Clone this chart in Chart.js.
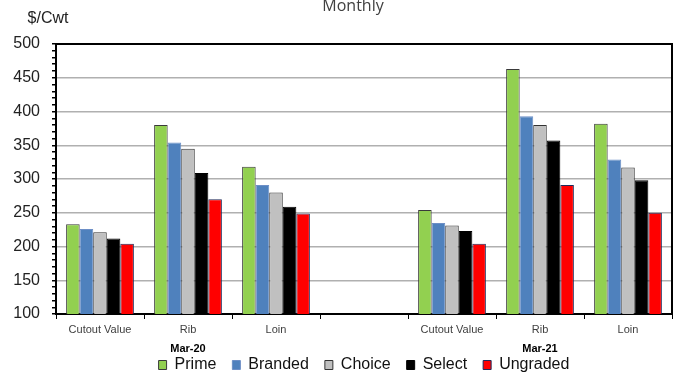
<!DOCTYPE html>
<html>
<head>
<meta charset="utf-8">
<script src="https://cdn.jsdelivr.net/npm/chart.js@4.4.1/dist/chart.umd.min.js"></script>
<style>
  html, body { margin: 0; padding: 0; background: #fff; }
  #wrap { width: 677px; height: 376px; position: relative; }
</style>
</head>
<body>
<div id="wrap"><canvas id="chart"></canvas></div>
<script>
// categories and values
const categories = ['Cutout Value', 'Rib', 'Loin', '', 'Cutout Value', 'Rib', 'Loin'];
const periods = ['Mar-20', 'Mar-21'];
const periodCenters = [1, 5]; // category index each period label sits under

const prime    = [233, 380, 318, null, 254, 463, 382];
const branded  = [226, 354, 291, null, 235, 393, 329];
const choice   = [221, 345, 280, null, 231, 380, 317];
const select   = [212, 309, 259, null, 223, 357, 298];
const ungraded = [204, 270, 249, null, 204, 291, 250];

const yMin = 100, yMax = 500, yMajor = 50, yMinor = 10;

const FONT = '"Liberation Sans", Arial, sans-serif';

// box round the plot, title, unit label and the period labels under the axis
const FramePlugin = {
	id: 'frame',
	afterDraw: (chart) => {
		const { ctx, chartArea, scales } = chart;
		ctx.save();
		ctx.strokeStyle = '#000';
		ctx.lineWidth = 2;
		ctx.beginPath();
		ctx.moveTo(chartArea.left, chartArea.top);
		ctx.lineTo(chartArea.right, chartArea.top);
		ctx.lineTo(chartArea.right, chartArea.bottom);
		ctx.stroke();

		ctx.fillStyle = '#404040';
		ctx.font = '16px "Open Sans", sans-serif';
		ctx.textAlign = 'center';
		ctx.textBaseline = 'alphabetic';
		ctx.fillText('Monthly', 353, 11);

		ctx.fillStyle = '#222';
		ctx.font = '16px ' + FONT;
		ctx.textBaseline = 'middle';
		ctx.fillText('$/Cwt', 48, 19);

		ctx.fillStyle = '#000';
		ctx.font = 'bold 11px ' + FONT;
		periods.forEach((p, i) => {
			const x = scales.x.getPixelForValue(periodCenters[i]);
			ctx.fillText(p, x, 349);
		});
		ctx.restore();
	}
};

const makeSet = (label, data, bg, border) => ({
	label: label,
	data: data,
	backgroundColor: bg,
	borderColor: border,
	borderWidth: 1,
	categoryPercentage: 0.77,
	barPercentage: 1.0
});

const ctx = document.getElementById('chart').getContext('2d');
new Chart(ctx, {
	type: 'bar',
	data: {
		labels: categories,
		datasets: [
			makeSet('Prime', prime, '#92D050', '#3a3a3a'),
			makeSet('Branded', branded, '#4F81BD', '#6d8fc7'),
			makeSet('Choice', choice, '#C0C0C0', '#333333'),
			makeSet('Select', select, '#000000', '#000000'),
			makeSet('Ungraded', ungraded, '#FF0000', '#1f2a5a')
		]
	},
	options: {
		responsive: true,
		maintainAspectRatio: false,
		animation: false,
		layout: {
			padding: { top: 44, right: 5, left: 0, bottom: -7 }
		},
		scales: {
			x: {
				offset: true,
				grid: {
					offset: true,
					drawOnChartArea: false,
					tickLength: 5,
					tickColor: '#000'
				},
				border: { display: true, color: '#000', width: 2 },
				ticks: {
					color: '#404040',
					font: { family: FONT, size: 11 },
					padding: 4,
					maxRotation: 0,
					autoSkip: false
				},
				afterFit: (scale) => { scale.height = 27; }
			},
			y: {
				min: yMin,
				max: yMax,
				ticks: {
					stepSize: yMinor,
					autoSkip: false,
					color: '#222',
					font: { family: FONT, size: 16 },
					padding: 12,
					callback: (v) => (v % yMajor === 0 ? v : '')
				},
				grid: {
					tickLength: 4,
					tickColor: '#000',
					lineWidth: 1.5,
					color: (c) => {
						const v = c.tick ? c.tick.value : 0;
						return (v % yMajor === 0 && v !== yMin && v !== yMax) ? '#b0b0b0' : 'rgba(0,0,0,0)';
					}
				},
				border: { display: true, color: '#000', width: 2 },
				afterFit: (scale) => { scale.width = 56; }
			}
		},
		plugins: {
			legend: {
				position: 'bottom',
				fullSize: false,
				labels: {
					color: '#111',
					font: { family: FONT, size: 16 },
					boxWidth: 8,
					boxHeight: 9,
					padding: 16
				}
			},
			tooltip: { enabled: false },
			title: { display: false }
		}
	},
	plugins: [FramePlugin]
});
</script>
</body>
</html>
